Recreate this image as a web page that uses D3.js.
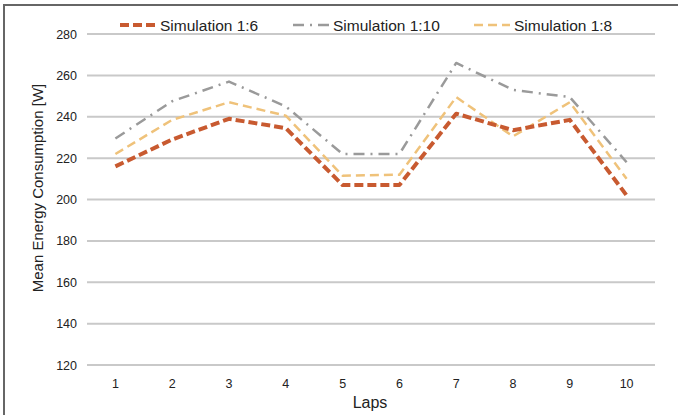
<!DOCTYPE html>
<html><head><meta charset="utf-8">
<script src="https://cdn.jsdelivr.net/npm/d3@7"></script>
<style>body{margin:0;background:#fff}svg{display:block}text{font-family:"Liberation Sans",Arial,sans-serif;fill:#222}</style>
</head><body>
<svg id="c" width="678" height="415"></svg>
<script>
const laps = ["1","2","3","4","5","6","7","8","9","10"];
const sim16 = [216, 229, 239, 234.5, 207, 207, 241.5, 233.5, 238.5, 202];
const sim110 = [229.5, 247.5, 257, 245, 222, 222, 266, 253, 249.5, 218];
const sim18 = [222, 238.5, 247, 240.5, 211.5, 212, 249.5, 230.5, 247, 210];
const yTicks = [120, 140, 160, 180, 200, 220, 240, 260, 280];
const seriesNames = ["Simulation 1:6", "Simulation 1:10", "Simulation 1:8"];

const svg = d3.select("#c");
// frame
svg.append("line").attr("x1",4).attr("x2",4).attr("y1",4).attr("y2",415).attr("stroke","#666").attr("stroke-width",2);
svg.append("line").attr("x1",3).attr("x2",678).attr("y1",5).attr("y2",5).attr("stroke","#666").attr("stroke-width",2);

const x = d3.scaleBand().domain(laps).range([87, 655]);
const y = d3.scaleLinear().domain([120, 280]).range([365, 34]);

const grid = svg.append("g");
grid.selectAll("line").data(yTicks).join("line")
  .attr("x1",87).attr("x2",655).attr("y1",d=>y(d)).attr("y2",d=>y(d))
  .attr("stroke","#c9c9c9").attr("stroke-width",2);

const yAxis = svg.append("g").attr("transform","translate(87,0)")
  .call(d3.axisLeft(y).tickValues(yTicks).tickSize(0).tickPadding(10));
yAxis.select(".domain").remove();
yAxis.selectAll("text").style("font-size","12.5px").attr("fill","#222");

const xAxis = svg.append("g").attr("transform","translate(0,374)")
  .call(d3.axisBottom(x).tickSize(0).tickPadding(5));
xAxis.select(".domain").remove();
xAxis.selectAll("text").style("font-size","12.5px").attr("fill","#222");

svg.append("text").attr("x",370).attr("y",408).attr("text-anchor","middle").style("font-size","16px").text("Laps");
svg.append("text").attr("transform","translate(43,188) rotate(-90)").attr("text-anchor","middle").style("font-size","15px").text("Mean Energy Consumption [W]");

const styles = [
  {data: sim16, color:"#c85a30", width:4, dash:"9,4"},
  {data: sim110, color:"#9a9a9a", width:2.5, dash:"11,6,2,6"},
  {data: sim18, color:"#efc27a", width:2.5, dash:"9,5"}
];
const line = d3.line().x((d,i)=>x(laps[i])+x.bandwidth()/2).y(d=>y(d));
// draw order: grey, yellow, red
[1,2,0].forEach(k=>{
  const s = styles[k];
  svg.append("path").attr("d", line(s.data)).attr("fill","none")
    .attr("stroke", s.color).attr("stroke-width", s.width).attr("stroke-dasharray", s.dash)
    .attr("stroke-linejoin","round");
});

// legend
const legX = [120, 293, 474];
seriesNames.forEach((n,k)=>{
  const s = styles[k];
  const g = svg.append("g").attr("transform",`translate(${legX[k]},25)`);
  g.append("line").attr("x1",0).attr("x2",36).attr("y1",0).attr("y2",0)
    .attr("stroke",s.color).attr("stroke-width",s.width).attr("stroke-dasharray",s.dash);
  g.append("text").attr("x",40).attr("y",6).style("font-size","15.5px").text(n);
});
</script>
</body></html>
